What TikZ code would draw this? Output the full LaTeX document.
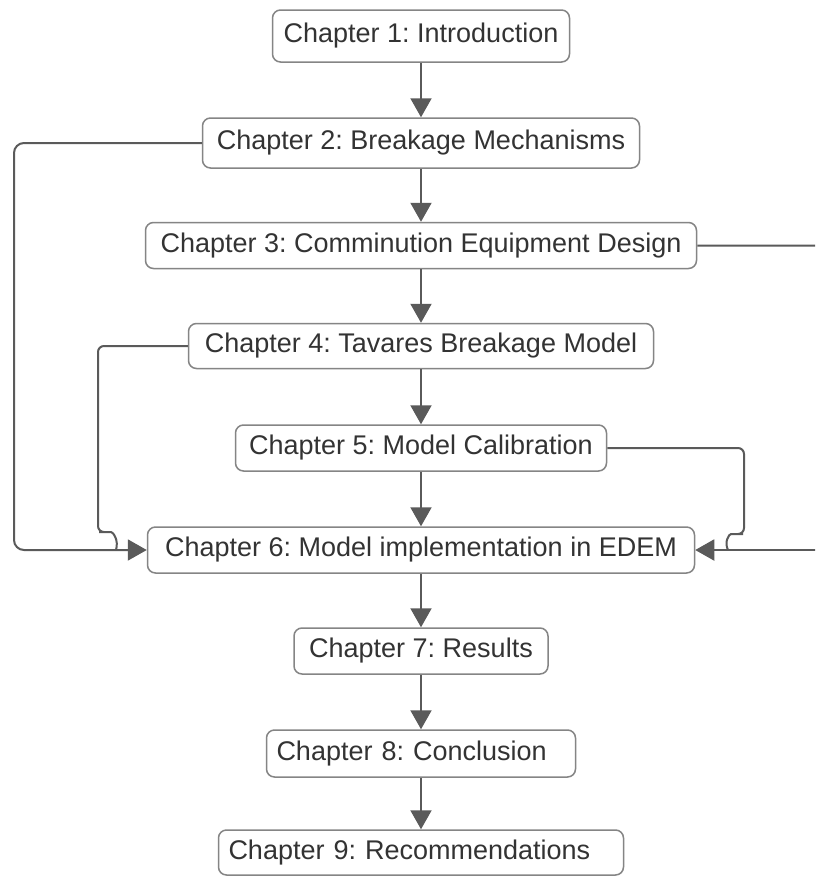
\documentclass[tikz,border=0pt]{standalone}
\usepackage{fontspec}
\setmainfont{Liberation Sans}
\usetikzlibrary{arrows.meta}
\definecolor{txtc}{HTML}{333333}
\definecolor{boxc}{HTML}{858585}
\definecolor{linec}{HTML}{5A5A5A}
\tikzset{
  chbox/.style={draw=boxc, line width=1.5pt, rounded corners=8pt, fill=white,
    inner sep=0pt, text=txtc, font=\fontsize{27}{32}\selectfont},
  conn/.style={draw=linec, line width=2pt},
  arr/.style={conn, -{Triangle[length=19pt, width=21pt]}, color=linec}
}
\frenchspacing
\begin{document}
\begin{tikzpicture}[x=1pt,y=-1pt]
\useasboundingbox (0,0) rectangle (815,876);
\fill[white] (0,0) rectangle (815,876);
\clip (0,0) rectangle (815,876);
\node[chbox, minimum width=297pt, minimum height=52pt] (c1) at (421,36) {Chapter 1: Introduction};
\node[chbox, minimum width=437pt, minimum height=50pt] (c2) at (421,143) {Chapter 2: Breakage Mechanisms};
\node[chbox, minimum width=551pt, minimum height=46pt] (c3) at (421,245.5) {Chapter 3: Comminution Equipment Design};
\node[chbox, minimum width=465pt, minimum height=45pt] (c4) at (421,346) {Chapter 4: Tavares Breakage Model};
\node[chbox, minimum width=371pt, minimum height=46pt] (c5) at (421,448) {Chapter 5: Model Calibration};
\node[chbox, minimum width=547pt, minimum height=46pt] (c6) at (421,550) {Chapter 6: Model implementation in EDEM};
\node[chbox, minimum width=254pt, minimum height=46pt] (c7) at (421,651) {Chapter 7: Results};
\node[chbox, text width=289pt, inner xsep=10pt, align=left, minimum height=47pt] (c8) at (421,753.5) {Chapter 8: Conclusion};
\node[chbox, text width=385pt, inner xsep=10pt, align=left, minimum height=45pt] (c9) at (421,852.5) {Chapter 9: Recommendations};
% main chain
\draw[arr] (c1) -- (c2);
\draw[arr] (c2) -- (c3);
\draw[arr] (c3) -- (c4);
\draw[arr] (c4) -- (c5);
\draw[arr] (c5) -- (c6);
\draw[arr] (c6) -- (c7);
\draw[arr] (c7) -- (c8);
\draw[arr] (c8) -- (c9);
% side connectors
\coordinate (l2) at (14,550);
\coordinate (r3) at (835,550);
\draw[arr, rounded corners=10pt] (c2.west) -| (l2) -- (c6.west);
\draw[arr] (r3) -- (c6.east);
\draw[conn, rounded corners=10pt] (c3.east) -| (r3);
\draw[conn, rounded corners=6pt] (c4.west) -| (98,532) -- (105,532) [sharp corners] .. controls (113,532) and (119,540) .. (116,550);
\draw[conn, rounded corners=6pt] (c5.east) -| (744,534) -- (737,534) [sharp corners] .. controls (729,534) and (724,542) .. (728,550);
\end{tikzpicture}
\end{document}
